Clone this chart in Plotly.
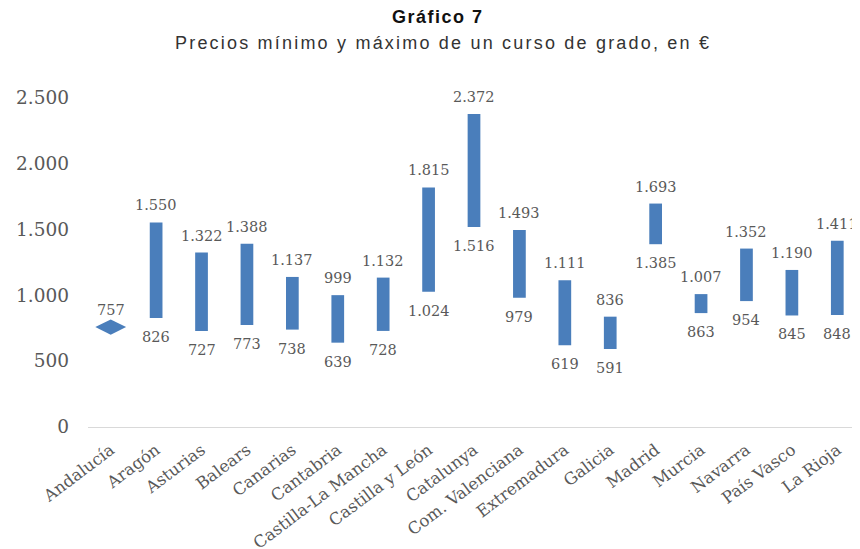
import plotly.graph_objects as go

regions = ["Andalucía", "Aragón", "Asturias", "Balears", "Canarias", "Cantabria",
           "Castilla-La Mancha", "Castilla y León", "Catalunya", "Com. Valenciana",
           "Extremadura", "Galicia", "Madrid", "Murcia", "Navarra", "País Vasco", "La Rioja"]
min_prices = [757, 826, 727, 773, 738, 639, 728, 1024, 1516, 979, 619, 591, 1385, 863, 954, 845, 848]
max_prices = [757, 1550, 1322, 1388, 1137, 999, 1132, 1815, 2372, 1493, 1111, 836, 1693, 1007, 1352, 1190, 1411]
y_ticks = [0, 500, 1000, 1500, 2000, 2500]

BLUE = "#4a7ebb"
GREY = "#595959"


def fmt(v):
    return f"{v:,}".replace(",", ".")


range_regions = [r for r, lo, hi in zip(regions, min_prices, max_prices) if hi != lo]
range_lo = [lo for lo, hi in zip(min_prices, max_prices) if hi != lo]
range_hi = [hi for lo, hi in zip(min_prices, max_prices) if hi != lo]
point_regions = [r for r, lo, hi in zip(regions, min_prices, max_prices) if hi == lo]
point_vals = [lo for lo, hi in zip(min_prices, max_prices) if hi == lo]

fig = go.Figure()
fig.add_trace(go.Bar(
    x=range_regions, y=[h - l for l, h in zip(range_lo, range_hi)], base=range_lo,
    marker=dict(color=BLUE, line=dict(width=0)), width=0.28, hoverinfo="skip",
))
fig.add_trace(go.Scatter(
    x=point_regions, y=point_vals, mode="markers",
    marker=dict(symbol="diamond-wide", size=22, color=BLUE), hoverinfo="skip",
))

label_font = dict(family="DejaVu Serif", size=14.5, color=GREY)
annotations = []
for r, lo, hi in zip(regions, min_prices, max_prices):
    annotations.append(dict(x=r, y=hi, text=fmt(hi), showarrow=False, yshift=17,
                            font=label_font))
    if hi != lo:
        annotations.append(dict(x=r, y=lo, text=fmt(lo), showarrow=False, yshift=-19,
                                font=label_font))

# titles
annotations.append(dict(
    x=0.453, xref="paper", y=1.148, yref="paper", xanchor="center", yanchor="middle",
    text="<b><span style='letter-spacing:1.5px'>Gráfico 7</span></b>", showarrow=False,
    font=dict(family="Liberation Sans", size=18, color="#111111"),
))
annotations.append(dict(
    x=0.46, xref="paper", y=1.0756, yref="paper", xanchor="center", yanchor="middle",
    text="<span style='letter-spacing:2.2px'>Precios mínimo y máximo de un curso de grado, en €</span>",
    showarrow=False,
    font=dict(family="Liberation Sans", size=18, color="#333333"),
))

fig.update_layout(
    width=860, height=549,
    margin=dict(l=80, r=8, t=62, b=130),
    paper_bgcolor="white", plot_bgcolor="white",
    showlegend=False,
    separators=",.",
    xaxis=dict(
        categoryorder="array", categoryarray=regions, automargin=False,
        range=[-0.5, 16.5], showline=True, linecolor="#d9d9d9", linewidth=1,
        showgrid=False, ticks="", tickangle=-37, ticklabelstandoff=6,
        tickfont=dict(family="DejaVu Serif", size=16.5, color=GREY),
    ),
    yaxis=dict(
        range=[0, 2705], tickvals=y_ticks, tickformat=",d", automargin=False,
        showgrid=False, zeroline=False, showline=False, ticks="",
        ticklabelstandoff=18,
        tickfont=dict(family="DejaVu Serif", size=18.5, color=GREY),
    ),
    annotations=annotations,
)

fig.write_html("out.html")
